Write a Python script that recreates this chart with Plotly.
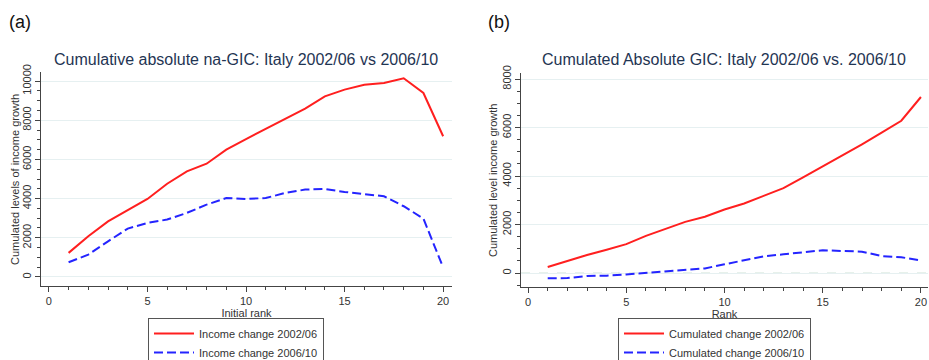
import plotly.graph_objects as go

rank = list(range(1, 21))

# Panel (a): Cumulative absolute na-GIC
a_change_0206 = [1230, 2080, 2840, 3400, 3980, 4760, 5390, 5780, 6500, 7040,
                 7550, 8060, 8590, 9220, 9560, 9810, 9900, 10140, 9390, 7180]
a_change_0610 = [750, 1140, 1820, 2470, 2760, 2930, 3270, 3690, 4030, 3980,
                 4030, 4290, 4460, 4490, 4340, 4230, 4120, 3610, 2980, 490]

# Panel (b): Cumulated Absolute GIC
b_change_0206 = [250, 500, 740, 960, 1190, 1530, 1830, 2110, 2320, 2620,
                 2870, 3170, 3500, 3940, 4390, 4870, 5310, 5790, 6280, 7260]
b_change_0610 = [-220, -210, -120, -110, -60, 0, 70, 140, 190, 360,
                 520, 690, 770, 840, 940, 910, 880, 700, 650, 520]

x_ticks = [0, 5, 10, 15, 20]
a_yticks = [0, 2000, 4000, 6000, 8000, 10000]
b_yticks = [0, 2000, 4000, 6000, 8000]

RED = "#ff1f1f"
BLUE = "#2424ff"
FONT = "Liberation Sans, Arial, sans-serif"
DASH = "9px,4px"

fig = go.Figure()
fig.add_trace(go.Scatter(x=rank, y=a_change_0206, mode="lines", name="Income change 2002/06",
                         line=dict(color=RED, width=2), xaxis="x", yaxis="y", legend="legend"))
fig.add_trace(go.Scatter(x=rank, y=a_change_0610, mode="lines", name="Income change 2006/10",
                         line=dict(color=BLUE, width=2, dash=DASH), xaxis="x", yaxis="y", legend="legend"))
fig.add_trace(go.Scatter(x=rank, y=b_change_0206, mode="lines", name="Cumulated change 2002/06",
                         line=dict(color=RED, width=2), xaxis="x2", yaxis="y2", legend="legend2"))
fig.add_trace(go.Scatter(x=rank, y=b_change_0610, mode="lines", name="Cumulated change 2006/10",
                         line=dict(color=BLUE, width=2, dash=DASH), xaxis="x2", yaxis="y2", legend="legend2"))

W, H = 929, 360
tickfont = dict(family=FONT, size=11, color="#333")
common_x = dict(showline=True, linecolor="#444", linewidth=1, ticks="outside", ticklen=5,
                tickcolor="#444", tickvals=x_ticks, showgrid=False, zeroline=False,
                tickfont=tickfont, automargin=False,
                minor=dict(dtick=1, ticks="outside", ticklen=3, tickcolor="#444"),
                title_font=dict(family=FONT, size=11, color="#333"), title_standoff=2)
common_y = dict(showline=True, linecolor="#444", linewidth=1, ticks="outside", ticklen=5,
                tickcolor="#444", showgrid=True, gridcolor="#e6f0f1", gridwidth=1, zeroline=False,
                tickfont=tickfont, tickangle=-90, tickformat="d", automargin=False,
                minor=dict(dtick=500, ticks="outside", ticklen=3, tickcolor="#444", showgrid=False))

fig.update_layout(
    width=W, height=H, margin=dict(l=0, r=0, t=0, b=0, autoexpand=False),
    paper_bgcolor="white", plot_bgcolor="white",
    font=dict(family=FONT, color="#333"),
    xaxis=dict(common_x, domain=[41 / W, 452 / W], range=[-0.4, 20.45], anchor="y",
               title_text="Initial rank"),
    yaxis=dict(common_y, domain=[1 - 286 / H, 1 - 72 / H], range=[-460, 10460], anchor="x",
               tickvals=a_yticks),
    xaxis2=dict(common_x, domain=[521 / W, 928 / W], range=[-0.36, 20.36], anchor="y2",
                title_text="Rank"),
    yaxis2=dict(common_y, domain=[1 - 287 / H, 1 - 73 / H], range=[-577, 8250], anchor="x2",
                tickvals=b_yticks),
    legend=dict(x=148 / W, y=1 - 318 / H, xanchor="left", yanchor="top",
                bordercolor="#555", borderwidth=1, bgcolor="white",
                font=dict(family=FONT, size=11, color="#333"), tracegroupgap=0,
                itemwidth=40),
    legend2=dict(x=618 / W, y=1 - 318 / H, xanchor="left", yanchor="top",
                 bordercolor="#555", borderwidth=1, bgcolor="white",
                 font=dict(family=FONT, size=11, color="#333"), tracegroupgap=0,
                 itemwidth=40),
    showlegend=True,
)

title_font = dict(family=FONT, size=16, color="#1f3553")
fig.add_annotation(text="Cumulative absolute na-GIC: Italy 2002/06 vs 2006/10",
                   x=246 / W, y=1 - 60 / H, xref="paper", yref="paper",
                   showarrow=False, font=title_font, xanchor="center", yanchor="middle")
fig.add_annotation(text="Cumulated Absolute GIC: Italy 2002/06 vs. 2006/10",
                   x=724 / W, y=1 - 60 / H, xref="paper", yref="paper",
                   showarrow=False, font=title_font, xanchor="center", yanchor="middle")
fig.add_annotation(text="(a)", x=7 / W, y=1 - 22 / H, xref="paper", yref="paper",
                   showarrow=False, font=dict(family=FONT, size=18, color="#111"),
                   xanchor="left", yanchor="middle")
fig.add_annotation(text="(b)", x=486 / W, y=1 - 22 / H, xref="paper", yref="paper",
                   showarrow=False, font=dict(family=FONT, size=18, color="#111"),
                   xanchor="left", yanchor="middle")
# y-axis titles
ytitle_font = dict(family=FONT, size=11, color="#333")
fig.add_annotation(text="Cumulated levels of income growth", x=15 / W, y=1 - 180 / H,
                   xref="paper", yref="paper", showarrow=False, textangle=-90,
                   font=ytitle_font, xanchor="center", yanchor="middle")
fig.add_annotation(text="Cumulated level income growth", x=493 / W, y=1 - 180 / H,
                   xref="paper", yref="paper", showarrow=False, textangle=-90,
                   font=ytitle_font, xanchor="center", yanchor="middle")
# faint dashed reference line at zero in panel (b)
fig.add_shape(type="line", xref="x2 domain", yref="y2", x0=0, x1=1, y0=0, y1=0,
              line=dict(color="#cfe3d6", width=1, dash="dash"), layer="below")

post = ("document.documentElement.style.margin='0';"
        "document.documentElement.style.overflow='hidden';"
        "document.documentElement.style.height='360px';"
        "document.body.style.margin='0';"
        "document.body.style.overflow='hidden';"
        "document.body.style.height='360px';")
fig.write_html("out.html", config={"displayModeBar": False}, post_script=post)
